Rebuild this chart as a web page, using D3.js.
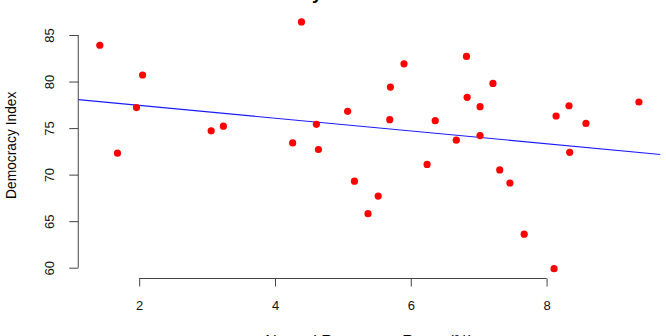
<!DOCTYPE html>
<html>
<head>
<meta charset="utf-8">
<script src="https://cdn.jsdelivr.net/npm/d3@7"></script>
<style>
  body { margin: 0; background: #fff; }
  svg { display: block; font-family: "Liberation Sans", Arial, sans-serif; }
</style>
</head>
<body>
<svg width="666" height="336"></svg>
<script>
// natural resource rents (x) vs democracy index (y)
var rents = [1.42, 2.05, 1.96, 1.68, 3.06, 3.24, 4.39, 4.26, 4.61, 4.64, 5.07, 5.17,
             5.90, 5.70, 5.69, 6.82, 7.21, 6.83, 7.02, 6.36, 6.67, 7.02, 6.24, 5.52,
             5.37, 7.31, 7.46, 7.67, 8.11, 8.14, 8.33, 8.58, 8.34, 9.36];
var democracy = [83.9, 80.7, 77.2, 72.3, 74.7, 75.2, 86.4, 73.4, 75.4, 72.7, 76.8, 69.3,
                 81.9, 79.4, 75.9, 82.7, 79.8, 78.3, 77.3, 75.8, 73.7, 74.2, 71.1, 67.7,
                 65.8, 70.5, 69.1, 63.6, 59.9, 76.3, 77.4, 75.5, 72.4, 77.8];
var xTicks = [2, 4, 6, 8];
var yTicks = [60, 65, 70, 75, 80, 85];

var title = "Democracy vs Natural Resources";
var xLabel = "Natural Resources Rents (%)";
var yLabel = "Democracy Index";

var width = 666, height = 336;
var margin = {top: 12.1, right: 5.5, bottom: 57.5, left: 78.25};
var font = '"Liberation Sans", Arial, sans-serif';

var points = rents.map(function(d, i){ return {x: d, y: democracy[i]}; });

// R style: data range plus 4% each side
var pad = function(ext){
  var r = ext[1] - ext[0];
  return [ext[0] - 0.04 * r, ext[1] + 0.04 * r];
};

var x = d3.scaleLinear()
  .domain(pad(d3.extent(rents)))
  .range([margin.left, width - margin.right]);
var y = d3.scaleLinear()
  .domain(pad(d3.extent(democracy)))
  .range([height - margin.bottom, margin.top]);

var svg = d3.select('svg');
var axisColor = '#444';

// least squares fit
var mx = d3.mean(rents), my = d3.mean(democracy);
var sxy = d3.sum(points, function(d){ return (d.x - mx) * (d.y - my); });
var sxx = d3.sum(points, function(d){ return (d.x - mx) * (d.x - mx); });
var slope = sxy / sxx;
var intercept = my - slope * mx;

svg.append('defs').append('clipPath').attr('id', 'plot')
  .append('rect')
  .attr('x', margin.left).attr('y', margin.top)
  .attr('width', width - margin.left - margin.right)
  .attr('height', height - margin.top - margin.bottom);

// x axis
var gx = svg.append('g')
  .attr('transform', 'translate(0,' + (height - margin.bottom) + ')')
  .call(d3.axisBottom(x).tickValues(xTicks).tickSize(8).tickSizeOuter(0).tickFormat(d3.format('d')))
  .attr('font-family', font)
  .attr('font-size', 13);
gx.select('.domain').remove();
gx.append('line')
  .attr('x1', x(xTicks[0])).attr('x2', x(xTicks[xTicks.length - 1]))
  .attr('stroke', axisColor);
gx.selectAll('.tick line').attr('stroke', axisColor);
gx.selectAll('.tick text')
  .attr('y', 31.8).attr('dy', 0)
  .attr('fill', '#111');

// y axis
var gy = svg.append('g')
  .attr('transform', 'translate(' + margin.left + ',0)')
  .call(d3.axisLeft(y).tickValues(yTicks).tickSize(9).tickSizeOuter(0).tickFormat(d3.format('d')))
  .attr('font-family', font)
  .attr('font-size', 13);
gy.select('.domain').remove();
gy.append('line')
  .attr('y1', y(yTicks[0])).attr('y2', y(yTicks[yTicks.length - 1]))
  .attr('stroke', axisColor);
gy.selectAll('.tick line').attr('stroke', axisColor);
gy.selectAll('.tick text')
  .attr('x', 0).attr('dy', 0)
  .attr('transform', 'translate(-24.5,0) rotate(-90)')
  .attr('text-anchor', 'middle')
  .attr('fill', '#111');

// regression line
svg.append('line')
  .attr('clip-path', 'url(#plot)')
  .attr('x1', x.range()[0]).attr('y1', y(intercept + slope * x.domain()[0]))
  .attr('x2', x.range()[1]).attr('y2', y(intercept + slope * x.domain()[1]))
  .attr('stroke', '#1a1aff')
  .attr('stroke-width', 1.1);

svg.selectAll('circle.pt').data(points).enter().append('circle')
  .attr('class', 'pt')
  .attr('cx', function(d){ return x(d.x); })
  .attr('cy', function(d){ return y(d.y); })
  .attr('r', 3.6)
  .attr('fill', '#ff0000');

// labels (the picture is cropped through the title and the x label)
var cx = (margin.left + width - margin.right) / 2;
var cy = (margin.top + height - margin.bottom) / 2;
svg.append('text')
  .attr('x', cx).attr('y', -1.5)
  .attr('text-anchor', 'middle')
  .style('font-size', '18.4px').style('font-weight', 'bold')
  .text(title);
svg.append('text')
  .attr('x', cx).attr('y', 346.5)
  .attr('text-anchor', 'middle')
  .style('font-size', '16px')
  .text(xLabel);
svg.append('text')
  .attr('transform', 'translate(15.5,' + cy + ') rotate(-90)')
  .attr('text-anchor', 'middle')
  .style('font-size', '13.8px')
  .text(yLabel);
</script>
</body>
</html>
